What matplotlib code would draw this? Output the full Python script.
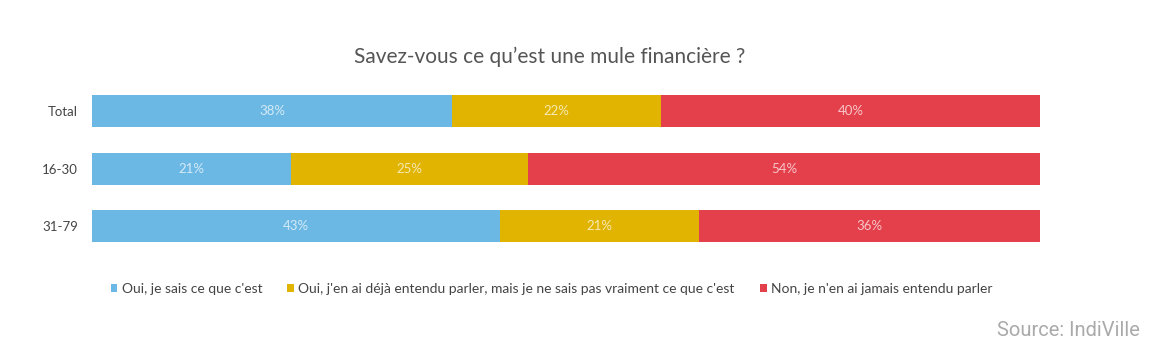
import numpy as np
import matplotlib.pyplot as plt
from matplotlib.patches import Patch

groups = ["Total", "16-30", "31-79"]
series_names = [
    "Oui, je sais ce que c'est",
    "Oui, j'en ai déjà entendu parler, mais je ne sais pas vraiment ce que c'est",
    "Non, je n'en ai jamais entendu parler",
]
knows = [38, 21, 43]
heard = [22, 25, 21]
never = [40, 54, 36]

COLORS = ["#6cb8e4", "#e0b400", "#e4404b"]

plt.rcParams["font.family"] = ["Lato", "DejaVu Sans"]

fig = plt.figure(figsize=(11.58, 3.55), dpi=100)
fig.patch.set_facecolor("white")
ax = fig.add_axes([92 / 1158, 1 - 242 / 355, 948 / 1158, 147 / 355])

h = 32 / 57.5
y = np.arange(len(groups))
left = np.zeros(len(groups))
for vals, color in zip([knows, heard, never], COLORS):
    vals = np.array(vals, dtype=float)
    ax.barh(y, vals, left=left, height=h, color=color, edgecolor="none")
    for yi, l, v in zip(y, left, vals):
        ax.text(l + v / 2, yi, f"{int(v)}%", ha="center", va="center",
                color="white", alpha=0.7, fontsize=9.5)
    left += vals

ax.set_xlim(0, 100)
ax.set_ylim(len(groups) - 1 + h / 2, -h / 2)
ax.set_yticks(y)
ax.set_yticklabels(groups, fontsize=9.5, color="#444444")
ax.tick_params(axis="y", length=0, pad=10)
ax.set_xticks([])
for s in ax.spines.values():
    s.set_visible(False)

fig.text(550 / 1158, 1 - 57 / 355, "Savez-vous ce qu\u2019est une mule financière ?",
         ha="center", va="center", fontsize=15, color="#555555")

handles = [Patch(facecolor=c, edgecolor="none") for c in COLORS]
fig.legend(handles, series_names, loc="center left", ncol=3,
           bbox_to_anchor=(98 / 1158, 1 - 289 / 355), frameon=False,
           fontsize=10, handlelength=0.5, handleheight=0.5, handletextpad=0.3,
           columnspacing=1.8, labelcolor="#444444")

fig.text(1140 / 1158, 1 - 331 / 355, "Source: IndiVille", ha="right", va="center",
         fontsize=14.5, color="#aaaaaa", family="Roboto")

fig.savefig("out.png", dpi=100)
